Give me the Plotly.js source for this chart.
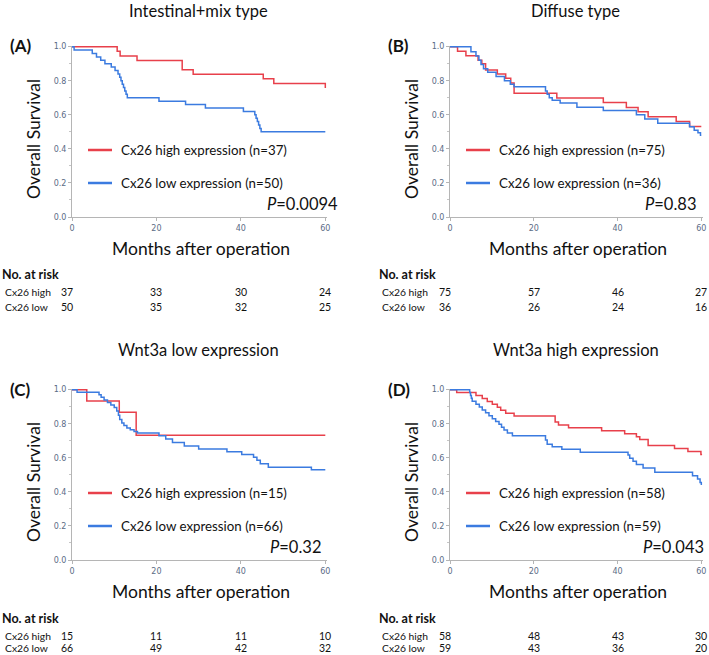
<!DOCTYPE html>
<html>
<head>
<meta charset="utf-8">
<script src="https://cdn.plot.ly/plotly-3.0.1.min.js"></script>
<style>
html,body{margin:0;padding:0;background:#fff;}
#chart{width:709px;height:655px;}
</style>
</head>
<body>
<div id="chart"></div>
<script>
// ---------- DATA ----------
const panelTitles = ["Intestinal+mix type", "Diffuse type", "Wnt3a low expression", "Wnt3a high expression"];
const panelLabels = ["(A)", "(B)", "(C)", "(D)"];
const pValues = ["0.0094", "0.83", "0.32", "0.043"];
const highN = [37, 75, 15, 58];
const lowN = [50, 36, 66, 59];
const riskMonths = [0, 20, 40, 60];
const riskHigh = [[37, 33, 30, 24], [75, 57, 46, 27], [15, 11, 11, 10], [58, 48, 43, 30]];
const riskLow = [[50, 35, 32, 25], [36, 26, 24, 16], [66, 49, 42, 32], [59, 43, 36, 20]];

// Panel A
const aHighT = [0, 10.7, 11.4, 15.4, 26.1, 28.7, 45.3, 47.8, 60, 60];
const aHighS = [1, 0.973, 0.946, 0.919, 0.865, 0.838, 0.811, 0.784, 0.784, 0.757];
const aLowT = [0, 0.5, 4.8, 5.8, 6.8, 7.8, 9.3, 10.2, 10.9, 11.3, 11.6, 11.9, 12.2, 12.5, 12.8, 13.1, 20.6, 26.9, 31.6, 40.6, 43.3, 43.6, 43.9, 44.2, 44.5, 44.8, 60];
const aLowS = [1, 0.98, 0.96, 0.94, 0.92, 0.90, 0.88, 0.86, 0.84, 0.82, 0.80, 0.78, 0.76, 0.74, 0.72, 0.70, 0.68, 0.66, 0.64, 0.62, 0.60, 0.58, 0.56, 0.54, 0.52, 0.50, 0.50];
// Panel B
const bHighT = [0, 1.8, 3.8, 6.7, 7.6, 8.5, 11.3, 13.3, 14.5, 15.3, 25.5, 36.6, 42.1, 44.9, 47.3, 54.0, 57.2, 60];
const bHighS = [1, 0.973, 0.947, 0.92, 0.90, 0.863, 0.84, 0.814, 0.787, 0.727, 0.698, 0.673, 0.643, 0.618, 0.588, 0.561, 0.531, 0.531];
const bLowT = [0, 5.0, 6.2, 6.9, 7.4, 8.0, 9.0, 11.0, 13.0, 14.4, 15.3, 22.8, 23.2, 23.7, 24.4, 26.3, 30.3, 36.6, 44.5, 46.5, 49.6, 57.2, 58.3, 59.2, 59.8, 60];
const bLowS = [1, 0.97, 0.945, 0.92, 0.895, 0.87, 0.85, 0.825, 0.80, 0.78, 0.765, 0.74, 0.72, 0.70, 0.685, 0.67, 0.645, 0.625, 0.60, 0.575, 0.55, 0.53, 0.51, 0.495, 0.48, 0.48];
// Panel C
const cHighT = [0, 3.5, 11.2, 15.2, 60];
const cHighS = [1, 0.933, 0.867, 0.733, 0.733];
const cLowT = [0, 1.2, 6.4, 6.9, 7.6, 8.4, 9.2, 10.0, 10.6, 11.0, 11.3, 11.8, 12.3, 13.0, 13.8, 14.7, 15.5, 20.6, 22.2, 23.8, 26.6, 30.0, 36.7, 40.2, 43.0, 43.8, 44.6, 46.5, 56.7, 60];
const cLowS = [1, 0.985, 0.97, 0.955, 0.94, 0.925, 0.91, 0.895, 0.875, 0.85, 0.825, 0.805, 0.79, 0.775, 0.765, 0.755, 0.745, 0.73, 0.71, 0.69, 0.67, 0.652, 0.636, 0.62, 0.604, 0.585, 0.565, 0.545, 0.53, 0.53];
// Panel D
const dHighT = [0, 1.6, 6.2, 7.7, 8.9, 10.1, 11.3, 12.1, 13.3, 15.3, 25.1, 25.9, 28.3, 36.2, 41.7, 44.5, 45.3, 47.3, 53.6, 56.8, 59.9, 60];
const dHighS = [1, 0.983, 0.966, 0.948, 0.931, 0.914, 0.897, 0.879, 0.862, 0.845, 0.81, 0.793, 0.776, 0.759, 0.741, 0.724, 0.707, 0.672, 0.655, 0.637, 0.62, 0.615];
const dLowT = [0, 4.7, 4.9, 5.1, 5.3, 6.2, 7.0, 7.7, 8.5, 9.3, 10.1, 10.9, 11.7, 12.3, 12.9, 13.7, 14.9, 22.8, 23.2, 24.4, 26.7, 31.1, 42.5, 42.9, 43.7, 44.5, 46.1, 48.9, 57.9, 59.1, 59.7, 60];
const dLowS = [1, 0.983, 0.966, 0.949, 0.932, 0.915, 0.898, 0.881, 0.864, 0.847, 0.83, 0.813, 0.797, 0.78, 0.763, 0.746, 0.73, 0.705, 0.68, 0.665, 0.65, 0.633, 0.617, 0.598, 0.58, 0.56, 0.54, 0.515, 0.495, 0.475, 0.455, 0.44];

const highCurves = [[aHighT, aHighS], [bHighT, bHighS], [cHighT, cHighS], [dHighT, dHighS]];
const lowCurves = [[aLowT, aLowS], [bLowT, bLowS], [cLowT, cLowS], [dLowT, dLowS]];

// ---------- LAYOUT ----------
const W = 709, H = 655;
const RED = "#e8404b", BLUE = "#3b7be0";
const FONT = "Lato, 'Open Sans', sans-serif";
const px = v => v / W;
const py = v => 1 - v / H;

const geo = [
  {x0: 72, x1: 327, y0: 46, y1: 217, left: 0, pRight: 340, titleY: 11},
  {x0: 450, x1: 703, y0: 46, y1: 217, left: 377, pRight: 698, titleY: 11},
  {x0: 72, x1: 327, y0: 389, y1: 560, left: 0, pRight: 323, titleY: 350},
  {x0: 450, x1: 703, y0: 389, y1: 560, left: 377, pRight: 706, titleY: 350}
];

const traces = [];
const layout = {
  width: W, height: H,
  margin: {l: 0, r: 0, t: 0, b: 0},
  paper_bgcolor: "#fff", plot_bgcolor: "#fff",
  showlegend: false,
  annotations: [], shapes: []
};

geo.forEach((g, i) => {
  const sfx = i === 0 ? "" : String(i + 1);
  const xa = "x" + sfx, ya = "y" + sfx;
  traces.push({x: highCurves[i][0], y: highCurves[i][1], xaxis: xa, yaxis: ya, mode: "lines",
    line: {shape: "hv", color: RED, width: 1.5}, hoverinfo: "skip"});
  traces.push({x: lowCurves[i][0], y: lowCurves[i][1], xaxis: xa, yaxis: ya, mode: "lines",
    line: {shape: "hv", color: BLUE, width: 1.5}, hoverinfo: "skip"});

  layout["xaxis" + sfx] = {
    domain: [px(g.x0), px(g.x1)], anchor: ya, range: [0, 60.4],
    tickvals: riskMonths, ticks: "outside", ticklen: 3, tickcolor: "#b5b5b5",
    showline: true, linecolor: "#b5b5b5", linewidth: 1, showgrid: false, zeroline: false,
    tickfont: {family: "'DejaVu Sans', sans-serif", size: 8, color: "#5b6b86"}
  };
  layout["yaxis" + sfx] = {
    domain: [py(g.y1), py(g.y0)], anchor: xa, range: [0, 1.004],
    tickvals: [0, 0.2, 0.4, 0.6, 0.8, 1.0], ticktext: ["0.0", "0.2", "0.4", "0.6", "0.8", "1.0"],
    ticks: "outside", ticklen: 3, tickcolor: "#b5b5b5",
    minor: {dtick: 0.1, ticks: "outside", ticklen: 2, tickcolor: "#c5c5c5"},
    showline: true, linecolor: "#b5b5b5", linewidth: 1, showgrid: false, zeroline: false,
    tickfont: {family: "'DejaVu Sans', sans-serif", size: 8, color: "#5b6b86"}
  };

  const A = (text, x, y, font, extra) => Object.assign({
    text, x: px(x), y: py(y), xref: "paper", yref: "paper", showarrow: false,
    xanchor: "center", yanchor: "middle", font: Object.assign({family: FONT, color: "#111"}, font)
  }, extra || {});

  const cx = (g.x0 + g.x1) / 2;
  layout.annotations.push(A(panelTitles[i], cx - 1, g.titleY, {size: 16.5}));
  layout.annotations.push(A("<b>" + panelLabels[i] + "</b>", g.x0 - 64, g.y0, {size: 17}, {xanchor: "left"}));
  layout.annotations.push(A("Overall Survival", g.x0 - 39, g.y0 + 93, {size: 17.5}, {textangle: -90}));
  layout.annotations.push(A("Months after operation", cx + 1, g.y1 + 31, {size: 17.5}));
  const ly1 = g.y0 + 104, ly2 = g.y0 + 137;
  layout.shapes.push({type: "line", xref: "paper", yref: "paper", x0: px(g.x0 + 16), x1: px(g.x0 + 40), y0: py(ly1), y1: py(ly1), line: {color: RED, width: 2.5}});
  layout.shapes.push({type: "line", xref: "paper", yref: "paper", x0: px(g.x0 + 16), x1: px(g.x0 + 40), y0: py(ly2), y1: py(ly2), line: {color: BLUE, width: 2.5}});
  layout.annotations.push(A("Cx26 high expression (n=" + highN[i] + ")", g.x0 + 47, ly1, {size: 13.3}, {xanchor: "left"}));
  layout.annotations.push(A("Cx26 low expression (n=" + lowN[i] + ")", g.x0 + 47, ly2, {size: 13.3}, {xanchor: "left"}));
  layout.annotations.push(A("<i>P</i>=" + pValues[i], g.pRight, g.y1 - 13, {size: 16.5}, {xanchor: "right"}));
  const ry0 = i < 2 ? 275 : 618, ry1 = i < 2 ? 292 : 636, ry2 = i < 2 ? 307 : 648;
  layout.annotations.push(A("<b>No. at risk</b>", g.left, ry0, {size: 12.5}, {xanchor: "left"}));
  layout.annotations.push(A("Cx26 high", g.left + 3, ry1, {size: 10.3}, {xanchor: "left"}));
  layout.annotations.push(A("Cx26 low", g.left + 3, ry2, {size: 10.3}, {xanchor: "left"}));
  riskMonths.forEach((m, k) => {
    const sh = k === 0 ? -5 : 0;
    layout.annotations.push({text: String(riskHigh[i][k]), x: m, xref: xa, y: py(ry1), yref: "paper",
      showarrow: false, xanchor: "center", yanchor: "middle", xshift: sh, font: {family: FONT, size: 10.5, color: "#111"}});
    layout.annotations.push({text: String(riskLow[i][k]), x: m, xref: xa, y: py(ry2), yref: "paper",
      showarrow: false, xanchor: "center", yanchor: "middle", xshift: sh, font: {family: FONT, size: 10.5, color: "#111"}});
  });
});

Plotly.newPlot("chart", traces, layout, {displayModeBar: false, staticPlot: true});
</script>
</body>
</html>
